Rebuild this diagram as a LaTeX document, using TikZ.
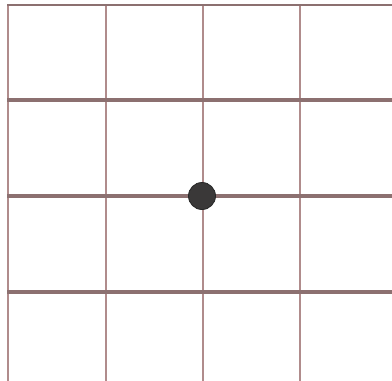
\documentclass[tikz,border=0pt]{standalone}
\begin{document}
\begin{tikzpicture}[x=1pt,y=-1pt,
  hline/.style={draw=hl,line width=3.2pt},
  vline/.style={draw=vl,line width=2pt},
  dotnode/.style={circle,fill=dotfill,draw=black!85,line width=0.8pt,minimum size=27pt,inner sep=0pt}]
\definecolor{hl}{HTML}{8C7070}
\definecolor{vl}{HTML}{B08C8C}
\definecolor{dotfill}{HTML}{3A3838}
\useasboundingbox (0,0) rectangle (392,381);
\fill[white] (0,0) rectangle (392,381);
% vertical lines
\foreach \x in {8,106,203,300} \draw[vline] (\x,4) -- (\x,381);
% horizontal lines
\draw[hline,line width=2.4pt] (7,5) -- (392,5);
\foreach \y in {100,196,292} \draw[hline] (7,\y) -- (392,\y);
\node[dotnode] (dot) at (202,196) {};
\end{tikzpicture}
\end{document}
